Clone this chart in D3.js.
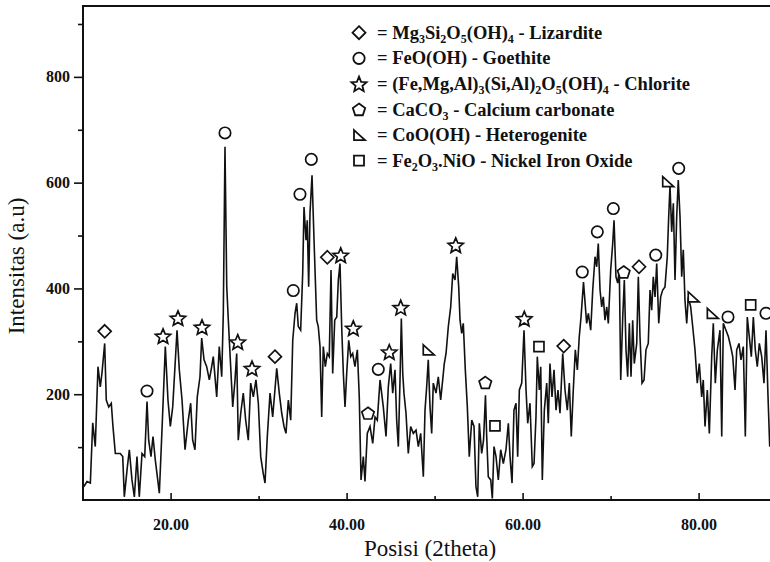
<!DOCTYPE html>
<html>
<head>
<meta charset="utf-8">
<script src="https://cdn.jsdelivr.net/npm/d3@7"></script>
<style>
  html, body { margin: 0; padding: 0; background: #fff; }
  svg { display: block; font-family: "Liberation Serif", "Times New Roman", serif; }
</style>
</head>
<body>
<svg id="chart" width="770" height="562"></svg>
<script>
// XRD pattern
var theta = [10.13,10.50,10.88,11.15,11.44,11.75,12.01,12.20,12.51,12.69,12.97,13.26,13.45,13.72,14.28,14.56,14.74,15.05,15.31,15.61,
  15.88,16.18,16.44,16.75,17.06,17.32,17.51,17.77,18.00,18.26,18.72,19.02,19.40,19.70,19.97,20.24,20.73,20.99,21.30,21.64,
  22.01,22.28,22.51,22.77,23.03,23.34,23.53,23.80,24.10,24.40,24.67,24.85,25.24,25.53,25.81,25.99,26.18,26.38,26.56,26.75,
  27.06,27.32,27.51,27.69,27.97,28.26,28.53,28.83,29.10,29.40,29.70,29.97,30.24,30.53,30.73,30.99,31.30,31.60,32.06,32.35,
  32.63,32.89,33.11,33.38,33.65,33.88,34.14,34.33,34.51,34.78,35.01,35.16,35.39,35.53,35.69,35.84,36.07,36.30,36.60,36.78,
  36.98,37.17,37.35,37.58,37.81,38.03,38.23,38.42,38.65,38.88,39.06,39.25,39.44,39.63,39.82,40.01,40.24,40.47,40.69,40.95,
  41.22,41.44,41.64,41.90,42.09,42.35,42.66,42.97,43.23,43.49,43.80,44.17,44.48,44.74,45.01,45.24,45.50,45.69,45.88,46.07,
  46.22,46.38,46.52,46.75,47.01,47.28,47.58,47.89,48.15,48.42,48.72,48.91,49.10,49.28,49.48,49.67,49.85,50.16,50.42,50.69,
  50.92,51.10,51.30,51.56,51.83,52.06,52.32,52.51,52.74,52.89,53.08,53.26,53.49,53.72,53.94,54.22,54.48,54.70,54.90,55.08,
  55.35,55.56,55.78,55.92,56.10,56.38,56.56,56.75,56.98,57.24,57.51,57.81,58.11,58.38,58.57,58.80,59.02,59.25,59.44,59.63,
  59.90,60.16,60.39,60.58,60.84,61.10,61.30,61.52,61.67,61.90,62.06,62.24,62.47,62.74,62.92,63.11,63.34,63.57,63.80,64.02,
  64.25,64.56,64.82,65.08,65.31,65.53,65.76,65.99,66.22,66.44,66.64,66.92,67.28,67.47,67.74,67.97,68.23,68.42,68.60,68.80,
  68.99,69.17,69.36,69.56,69.74,70.01,70.24,70.39,70.61,70.81,70.99,71.15,71.38,71.56,71.75,71.94,72.13,72.32,72.51,72.69,
  72.97,73.15,73.34,73.57,73.80,74.02,74.28,74.48,74.67,74.85,75.05,75.24,75.47,75.69,75.92,76.18,76.44,76.60,76.75,76.94,
  77.13,77.32,77.51,77.69,77.89,78.08,78.26,78.45,78.65,78.83,79.10,79.33,79.59,79.85,80.08,80.35,80.53,80.73,80.99,81.22,
  81.49,81.67,81.90,82.13,82.43,82.63,82.81,83.11,83.38,83.65,83.88,84.14,84.33,84.59,84.82,85.08,85.31,85.53,85.76,85.99,
  86.22,86.44,86.67,86.90,87.17,87.43,87.66,87.89,88.08,88.35];
var intensity = [25,35,32,146,101,252,214,240,296,189,176,183,139,88,88,82,6,57,95,38,
  6,82,6,88,82,186,113,82,120,76,13,132,290,189,139,176,321,246,189,95,
  151,183,113,95,195,233,306,265,252,227,252,271,195,290,233,353,668,403,340,277,
  176,227,277,113,164,202,151,113,221,195,227,183,82,50,32,120,202,157,249,202,
  164,139,126,189,151,302,353,372,328,321,428,554,491,529,403,542,614,491,340,328,
  290,157,290,252,277,271,435,239,340,346,416,447,328,239,176,239,302,271,277,252,
  284,195,38,82,35,126,139,107,157,151,227,176,120,214,258,202,246,151,101,227,
  343,239,202,164,88,139,126,132,101,126,44,170,214,265,176,126,221,202,233,189,
  227,258,277,328,365,428,416,460,403,340,315,334,246,176,82,151,139,25,6,145,
  88,113,198,120,44,38,3,101,82,38,95,69,95,145,82,32,170,183,82,208,
  221,321,208,145,183,63,69,157,271,208,252,38,170,221,145,258,195,246,170,208,
  164,277,208,170,221,120,208,284,246,309,346,412,334,353,321,397,460,441,485,397,
  365,384,340,365,334,435,485,529,422,410,435,227,346,416,284,233,334,233,340,258,
  296,422,309,221,227,284,296,397,359,422,384,447,334,384,397,403,460,535,594,507,
  561,416,535,605,535,422,473,378,334,384,365,328,284,221,258,195,227,139,208,126,
  271,334,221,284,321,120,334,321,309,290,271,208,284,296,265,290,120,346,309,271,
  346,284,252,296,271,221,321,195,101,151];

// phase markers placed above the peaks
var phaseSymbols = ["diamond", "circle", "star", "pentagon", "triangle", "square"];
var phaseFormulas = [
  "= Mg_3Si_2O_5(OH)_4 - Lizardite",
  "= FeO(OH) - Goethite",
  "= (Fe,Mg,Al)_3(Si,Al)_2O_5(OH)_4 - Chlorite",
  "= CaCO_3 - Calcium carbonate",
  "= CoO(OH) - Heterogenite",
  "= Fe_2O_3.NiO - Nickel Iron Oxide"
];
var markerTheta =     [12.51,17.32,19.14,20.84,23.57,26.18,27.63,29.25,31.86,33.94,34.70,35.99,37.81,39.33,40.76,42.43,43.60,44.85,46.15,49.28,
  52.40,55.76,56.86,60.19,61.86,64.67,66.78,68.49,70.31,71.49,73.23,75.13,76.49,77.74,79.39,81.56,83.34,85.92,87.66];
var markerIntensity = [319,206,310,344,327,694,299,249,271,396,578,644,459,463,325,164,247,280,364,284,
  482,222,140,343,290,291,431,507,551,431,441,463,602,627,384,353,346,369,353];
var markerPhase =     [0,1,2,2,2,1,2,2,0,1,1,1,0,2,2,3,1,2,2,4,
  2,3,5,2,5,0,1,1,1,3,0,1,4,1,4,4,1,5,1];

var yMajor = [200, 400, 600, 800];
var yMinor = [100, 300, 500, 700, 900];
var xMajor = [20, 40, 60, 80];
var xMinor = [30, 50, 70];

var svg = d3.select("#chart");
var plotLeft = 83, plotTop = 6, plotBottom = 500, plotRight = 770;

var x = d3.scaleLinear().domain([10, 90]).range([82.6, 786.6]);
var y = d3.scaleLinear().domain([0, 934]).range([plotBottom, plotTop]);

svg.append("defs").append("clipPath").attr("id", "plotClip")
  .append("rect").attr("x", plotLeft).attr("y", plotTop)
  .attr("width", plotRight - plotLeft).attr("height", plotBottom - plotTop);

/*  PATTERN LINE  */
var points = theta.map(function(t, i) { return [t, intensity[i]]; });
var line = d3.line().x(function(d) { return x(d[0]); }).y(function(d) { return y(d[1]); });

svg.append("path")
  .datum(points)
  .attr("clip-path", "url(#plotClip)")
  .attr("fill", "none")
  .attr("stroke", "#111")
  .attr("stroke-width", 1.6)
  .attr("d", line);

/*  MARKER SHAPES  */
function shapePath(kind) {
  var p = d3.path();
  if (kind === "circle") { p.arc(0, 0, 5.7, 0, 2 * Math.PI); p.closePath(); }
  else if (kind === "diamond") { p.moveTo(0, -6.5); p.lineTo(6.5, 0); p.lineTo(0, 6.5); p.lineTo(-6.5, 0); p.closePath(); }
  else if (kind === "square") { p.rect(-5, -5, 10, 10); }
  else if (kind === "triangle") { p.moveTo(-5, -5); p.lineTo(6, 5); p.lineTo(-5, 5); p.closePath(); }
  else if (kind === "pentagon") {
    for (var i = 0; i < 5; i++) {
      var a = -Math.PI / 2 + i * 2 * Math.PI / 5;
      if (i === 0) p.moveTo(6.5 * Math.cos(a), 6.5 * Math.sin(a) + 0.5);
      else p.lineTo(6.5 * Math.cos(a), 6.5 * Math.sin(a) + 0.5);
    }
    p.closePath();
  }
  else if (kind === "star") {
    for (var j = 0; j < 10; j++) {
      var b = -Math.PI / 2 + j * Math.PI / 5;
      var r = (j % 2 === 0) ? 8 : 3.6;
      if (j === 0) p.moveTo(r * Math.cos(b), r * Math.sin(b) + 0.8);
      else p.lineTo(r * Math.cos(b), r * Math.sin(b) + 0.8);
    }
    p.closePath();
  }
  return p.toString();
}

svg.append("g").attr("class", "markers")
  .selectAll("path").data(markerTheta).enter().append("path")
  .attr("transform", function(t, i) { return "translate(" + x(t) + "," + y(markerIntensity[i]) + ")"; })
  .attr("d", function(t, i) { return shapePath(phaseSymbols[markerPhase[i]]); })
  .attr("fill", "#fff")
  .attr("stroke", "#111")
  .attr("stroke-width", 1.7);

/*  AXES  */
function styleAxis(g) {
  g.select(".domain").remove();
  g.selectAll(".tick line").attr("stroke", "#111").attr("stroke-width", 1.6);
  g.selectAll(".tick text").filter(function() { return this.textContent === ""; }).remove();
  g.selectAll(".tick text").attr("fill", "#111").attr("font-size", 16).attr("font-weight", "bold")
    .attr("font-family", "'Liberation Serif', 'Times New Roman', serif");
}

svg.append("g").attr("transform", "translate(" + plotLeft + ",0)")
  .call(d3.axisLeft(y).tickValues(yMajor).tickSize(9).tickPadding(4).tickFormat(d3.format("d")))
  .call(styleAxis);
svg.append("g").attr("transform", "translate(" + plotLeft + ",0)")
  .call(d3.axisLeft(y).tickValues(yMinor).tickSize(5).tickFormat(""))
  .call(styleAxis);

svg.append("g").attr("transform", "translate(0," + plotBottom + ")")
  .call(d3.axisBottom(x).tickValues(xMajor).tickSize(-7).tickPadding(19).tickFormat(d3.format(".2f")))
  .call(styleAxis);
svg.append("g").attr("transform", "translate(0," + plotBottom + ")")
  .call(d3.axisBottom(x).tickValues(xMinor).tickSize(-4).tickFormat(""))
  .call(styleAxis);

// frame
svg.append("path")
  .attr("d", "M" + plotRight + "," + plotTop + "H" + plotLeft + "V" + plotBottom + "H" + plotRight)
  .attr("fill", "none").attr("stroke", "#111").attr("stroke-width", 2);

/*  TITLES  */
svg.append("text")
  .attr("x", 430).attr("y", 556)
  .attr("text-anchor", "middle").attr("font-size", 23).attr("fill", "#111")
  .text("Posisi (2theta)");

svg.append("text")
  .attr("transform", "translate(24,266) rotate(-90)")
  .attr("text-anchor", "middle").attr("font-size", 23).attr("fill", "#111")
  .text("Intensitas (a.u)");

/*  LEGEND  */
var legend = svg.append("g").attr("class", "legend");
phaseFormulas.forEach(function(f, i) {
  var cy = 32.7 + i * 25.6;
  legend.append("path")
    .attr("transform", "translate(359," + cy + ")")
    .attr("d", shapePath(phaseSymbols[i]))
    .attr("fill", "#fff").attr("stroke", "#111").attr("stroke-width", 1.8);
  var txt = legend.append("text")
    .attr("x", 377).attr("y", cy + 6)
    .attr("font-size", 18.5).attr("font-weight", "bold").attr("fill", "#111");
  var shift = 0;
  f.split(/(_\d)/).forEach(function(part) {
    if (part === "") return;
    if (part.charAt(0) === "_") {
      txt.append("tspan").attr("font-size", 12).attr("dy", 4 - shift).text(part.slice(1));
      shift = 4;
    } else {
      txt.append("tspan").attr("dy", -shift).text(part);
      shift = 0;
    }
  });
});
</script>
</body>
</html>
